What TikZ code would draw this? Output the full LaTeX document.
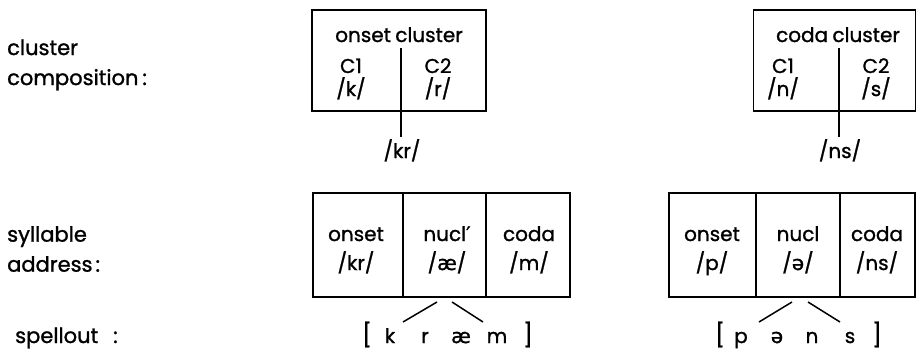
\documentclass[tikz,border=0pt]{standalone}
\usepackage{fontspec}
\setmainfont{Poppins}[UprightFeatures={FakeBold=1.2}]
\newfontfamily\ipafont{DejaVu Sans}[FakeBold=1.2]
\begin{document}
\begin{tikzpicture}[x=1pt,y=-1pt,
  box/.style={draw,line width=1.7pt,inner sep=0pt},
  txt/.style={font=\fontsize{20}{23}\selectfont,inner sep=0pt,align=center,anchor=base},
  mtxt/.style={font=\fontsize{20}{29}\selectfont,inner sep=0pt,align=center,anchor=base},
  spl/.style={font=\fontsize{20}{23}\selectfont,inner sep=0pt,anchor=base},
  brk/.style={font=\fontsize{23}{26}\selectfont,inner sep=0pt,anchor=base},
  lbl/.style={font=\fontsize{21}{30}\selectfont,inner sep=0pt,align=left,anchor=west},
  link/.style={line width=1.5pt}]
\useasboundingbox (0,0) rectangle (917,351);
% left labels
\node[lbl] (lab1) at (7,65) {cluster\\composition\hspace{4pt}:};
\node[lbl] (lab2) at (7,249) {syllable\\address\hspace{3pt}:};
\node[lbl,anchor=base west] (lab3) at (15,343) {spellout\hspace{15pt}:};
% top left cluster box
\node[box,minimum width=174pt,minimum height=101pt] (oc) at (399,60.5) {};
\node[txt] (ochead) at (399,42) {onset\hspace{-1pt} cluster};
\node[txt] (oc1) at (351,96) {C1\\/k/};
\node[txt] (oc2) at (438,96) {C2\\/r/};
\coordinate (ocdiv) at (401,48);
\draw[link] (ocdiv) -- (oc.south -| ocdiv);
\coordinate (ocstem) at (401,137);
\draw[link] (oc.south -| ocdiv) -- (ocstem);
\node[txt] (kr) at (402,158) {/kr/};
% top right cluster box
\node[box,minimum width=162pt,minimum height=101pt] (cc) at (834.5,60.5) {};
\node[txt] (cchead) at (838,42) {coda\hspace{-1pt} cluster};
\node[txt] (cc1) at (783,96) {C1\\/n/};
\node[txt] (cc2) at (876,96) {C2\\/s/};
\coordinate (ccdiv) at (839,48);
\draw[link] (ccdiv) -- (cc.south -| ccdiv);
\coordinate (ccstem) at (839,137);
\draw[link] (cc.south -| ccdiv) -- (ccstem);
\node[txt] (ns) at (840,158) {/ns/};
% syllable 1
\node[box,minimum width=90pt,minimum height=104pt] (on1) at (358,245) {};
\node[box,minimum width=83pt,minimum height=104pt] (nu1) at (444.5,245) {};
\node[box,minimum width=84pt,minimum height=104pt] (co1) at (528,245) {};
\node[mtxt] (on1t) at (356,270) {onset\\/kr/};
\node[mtxt] (nu1t) at (447,270) {nucl{\ipafont ′}\\/{\ipafont æ}/};
\node[mtxt] (co1t) at (529,270) {coda\\/m/};
% syllable 2
\node[box,minimum width=87pt,minimum height=104pt] (on2) at (712.5,245) {};
\node[box,minimum width=84pt,minimum height=104pt] (nu2) at (798,245) {};
\node[box,minimum width=75pt,minimum height=104pt] (co2) at (877.5,245) {};
\node[mtxt] (on2t) at (712,270) {onset\\/p/};
\node[mtxt] (nu2t) at (798,270) {nucl\\/{\ipafont ə}/};
\node[mtxt] (co2t) at (877,270) {coda\\/ns/};
% spellout 1
\node[brk] (b1l) at (367,343) {[};
\node[spl] (s1k) at (390,343) {k};
\node[spl] (s1r) at (425,343) {r};
\node[spl] (s1a) at (461,343) {{\ipafont æ}};
\node[spl] (s1m) at (497,343) {m};
\node[brk] (b1r) at (528,343) {]};
\coordinate (l1a) at (437,302);
\coordinate (l1b) at (403,322);
\coordinate (l1c) at (452,302);
\coordinate (l1d) at (483,322);
\draw[link] (l1a) -- (l1b);
\draw[link] (l1c) -- (l1d);
% spellout 2
\node[brk] (b2l) at (720,343) {[};
\node[spl] (s2p) at (741,343) {p};
\node[spl] (s2e) at (777,343) {{\ipafont ə}};
\node[spl] (s2n) at (812,343) {n};
\node[spl] (s2s) at (850,343) {s};
\node[brk] (b2r) at (877,343) {]};
\coordinate (l2a) at (792,302);
\coordinate (l2b) at (759,322);
\coordinate (l2c) at (808,302);
\coordinate (l2d) at (840,322);
\draw[link] (l2a) -- (l2b);
\draw[link] (l2c) -- (l2d);
\end{tikzpicture}
\end{document}
